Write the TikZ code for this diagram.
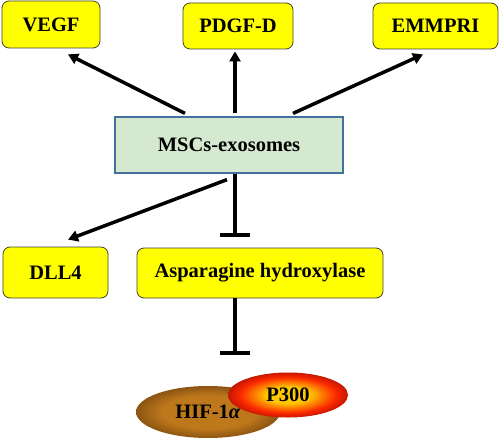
\documentclass[tikz,border=0pt]{standalone}
\usepackage{fontspec}
\setmainfont{Liberation Serif}
\usetikzlibrary{shapes.geometric,arrows.meta}
\definecolor{mscfill}{RGB}{213,232,208}
\definecolor{mscdraw}{RGB}{65,113,156}
\definecolor{boxyellow}{RGB}{255,255,0}
\definecolor{boxdraw}{RGB}{64,64,48}
\definecolor{pcenter}{RGB}{255,200,0}
\definecolor{pmid}{RGB}{250,40,0}
\definecolor{pedge}{RGB}{130,0,0}
\definecolor{hcenter}{RGB}{190,120,28}
\definecolor{hedge}{RGB}{90,48,8}
\pgfdeclareradialshading{pshade}{\pgfpoint{0bp}{0bp}}{color(0bp)=(pcenter); color(9bp)=(pcenter); color(20bp)=(pmid); color(32bp)=(pedge); color(50bp)=(pedge)}
\pgfdeclareradialshading{hshade}{\pgfpoint{0bp}{0bp}}{color(0bp)=(hcenter); color(16bp)=(hcenter); color(34bp)=(hedge); color(50bp)=(hedge)}
\tikzset{
  ybox/.style={draw=boxdraw, line width=0.8pt, fill=boxyellow, rounded corners=7pt, inner sep=0pt,
    font=\bfseries\fontsize{20.5}{24}\selectfont},
  mbox/.style={draw=mscdraw, line width=1.2pt, fill=mscfill, inner sep=0pt,
    font=\bfseries\fontsize{20.5}{24}\selectfont},
  act/.style={line width=3.5pt, -{Triangle[length=10pt,width=11pt]}},
  inh/.style={line width=3.5pt, -{Bar[width=30pt,line width=3.5pt]}},
  ell/.style={ellipse, inner sep=0pt, font=\bfseries\fontsize{20.5}{24}\selectfont}
}
\begin{document}
\begin{tikzpicture}[x=1pt,y=-1pt]
\useasboundingbox (0,0) rectangle (500,441);
\node[ybox, minimum width=98pt, minimum height=47pt] (vegf) at (51,24.5) {VEGF};
\node[ybox, minimum width=110pt, minimum height=46pt] (pdgf) at (238,26) {PDGF-D};
\node[ybox, minimum width=125pt, minimum height=46pt] (emm) at (435.5,26) {EMMPRI};
\node[mbox, minimum width=228pt, minimum height=56pt] (msc) at (229,145) {MSCs-exosomes};
\node[ybox, minimum width=105pt, minimum height=51pt] (dll) at (55.5,272.5) {DLL4};
\node[ybox, minimum width=246pt, minimum height=50pt] (asp) at (260,273) {Asparagine hydroxylase};
\node[ell, shading=hshade, minimum width=144pt, minimum height=52pt] (hif) at (208,412) {HIF-1\textit{α}};
\node[ell, shading=pshade, minimum width=120pt, minimum height=45pt] (p300) at (288,395) {\raisebox{-4pt}{P300}};
\draw[act] ([xshift=-44pt,yshift=3pt]msc.north) -- ([xshift=17pt,yshift=-6pt]vegf.south);
\draw[act] ([xshift=6pt,yshift=3pt]msc.north) -- ([xshift=-3pt,yshift=-2pt]pdgf.south);
\draw[act] ([xshift=64pt,yshift=3pt]msc.north) -- ([xshift=-12.5pt,yshift=-5pt]emm.south);
\draw[act] ([xshift=-2pt,yshift=-6pt]msc.south) -- ([xshift=12.5pt,yshift=7pt]dll.north);
\draw[inh] ([xshift=6pt]msc.south) -- ([xshift=-25pt,yshift=11pt]asp.north);
\draw[inh] ([xshift=-25pt]asp.south) -- ([xshift=27pt,yshift=31pt]hif.north);
\end{tikzpicture}
\end{document}
